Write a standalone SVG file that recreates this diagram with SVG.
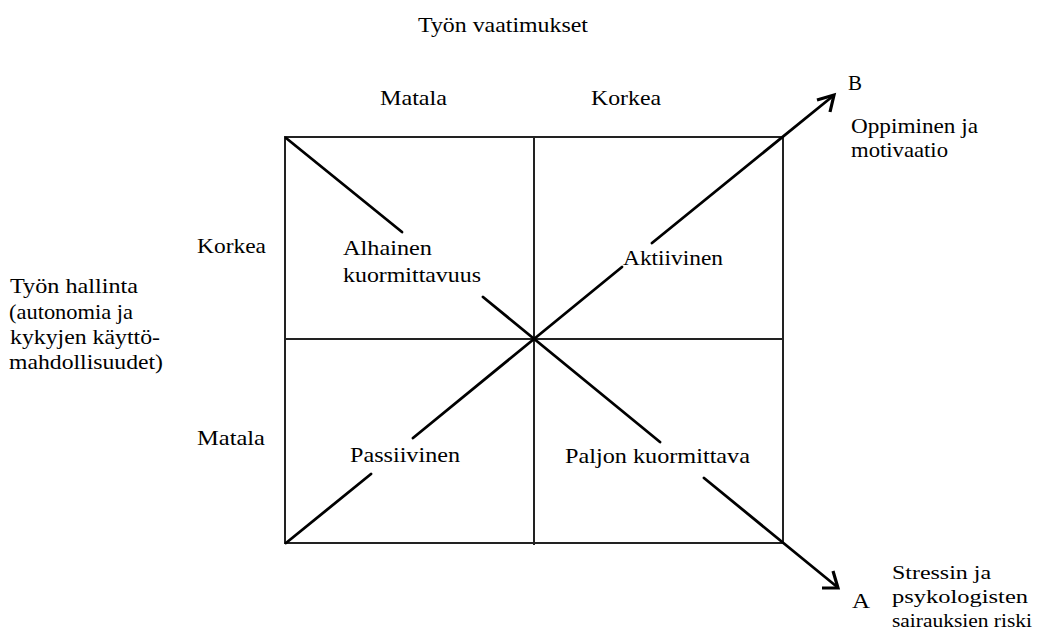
<svg xmlns="http://www.w3.org/2000/svg" width="1047" height="632" viewBox="0 0 1047 632" font-family="'Liberation Serif', 'Times New Roman', serif">
<style>
text { font-family: "Liberation Serif", "Times New Roman", serif; font-size: 21px; fill: #000; }
.sm { font-size: 19px; }
.grid { stroke: #222; stroke-width: 2; fill: none; }
.diag { stroke: #000; stroke-width: 2.8; fill: none; stroke-linecap: round; }
.head { stroke: #000; stroke-width: 3.2; fill: none; stroke-linecap: butt; stroke-linejoin: miter; }
</style>
<rect width="1047" height="632" fill="#fff"/>
<g id="grid">
  <rect class="grid" x="285" y="137" width="498" height="406"/>
  <line class="grid" x1="534" y1="137" x2="534" y2="545"/>
  <line class="grid" x1="285" y1="339" x2="783" y2="339"/>
</g>
<g id="connectors">
  <line class="diag" x1="286" y1="543" x2="371" y2="474"/>
  <line class="diag" x1="413" y1="438" x2="534" y2="339"/>
  <line class="diag" x1="534" y1="339" x2="622" y2="267"/>
  <line class="diag" x1="652" y1="243" x2="833" y2="96"/>
  <polyline class="head" points="817,100 834,95 830,112"/>
  <line class="diag" x1="286" y1="138" x2="402" y2="232"/>
  <line class="diag" x1="483" y1="297" x2="660" y2="442"/>
  <line class="diag" x1="704" y1="478" x2="836" y2="586"/>
  <polyline class="head" points="822,588 838,588 833,571"/>
</g>
<g id="title"><text x="418" y="32" textLength="170" lengthAdjust="spacingAndGlyphs">Työn vaatimukset</text></g>
<g id="col-low"><text x="380" y="105" textLength="67" lengthAdjust="spacingAndGlyphs">Matala</text></g>
<g id="col-high"><text x="591" y="105" textLength="70" lengthAdjust="spacingAndGlyphs">Korkea</text></g>
<g id="row-high"><text x="197" y="253" textLength="69" lengthAdjust="spacingAndGlyphs">Korkea</text></g>
<g id="row-low"><text x="197" y="445" textLength="68" lengthAdjust="spacingAndGlyphs">Matala</text></g>
<g id="axis-left">
  <text x="10" y="293" textLength="128" lengthAdjust="spacingAndGlyphs">Työn hallinta</text>
  <text x="9" y="319" textLength="124" lengthAdjust="spacingAndGlyphs">(autonomia ja</text>
  <text x="10" y="344" textLength="150" lengthAdjust="spacingAndGlyphs">kykyjen käyttö-</text>
  <text x="9" y="369" textLength="154" lengthAdjust="spacingAndGlyphs">mahdollisuudet)</text>
</g>
<g id="q-low-strain">
  <text x="343" y="255" textLength="89" lengthAdjust="spacingAndGlyphs">Alhainen</text>
  <text x="343" y="282" textLength="138" lengthAdjust="spacingAndGlyphs">kuormittavuus</text>
</g>
<g id="q-active"><text x="623" y="265" textLength="100" lengthAdjust="spacingAndGlyphs">Aktiivinen</text></g>
<g id="q-passive"><text x="350" y="462" textLength="110" lengthAdjust="spacingAndGlyphs">Passiivinen</text></g>
<g id="q-high-strain"><text x="565" y="463" textLength="185" lengthAdjust="spacingAndGlyphs">Paljon kuormittava</text></g>
<g id="end-B">
  <text x="848" y="90" textLength="14" lengthAdjust="spacingAndGlyphs">B</text>
  <text x="851" y="133" textLength="127" lengthAdjust="spacingAndGlyphs">Oppiminen ja</text>
  <text x="851" y="157" textLength="97" lengthAdjust="spacingAndGlyphs">motivaatio</text>
</g>
<g id="end-A">
  <text x="852" y="608" textLength="18" lengthAdjust="spacingAndGlyphs">A</text>
  <text class="sm" x="892" y="579" textLength="99" lengthAdjust="spacingAndGlyphs">Stressin ja</text>
  <text class="sm" x="892" y="603" textLength="136" lengthAdjust="spacingAndGlyphs">psykologisten</text>
  <text class="sm" x="892" y="627" textLength="140" lengthAdjust="spacingAndGlyphs">sairauksien riski</text>
</g>
</svg>
